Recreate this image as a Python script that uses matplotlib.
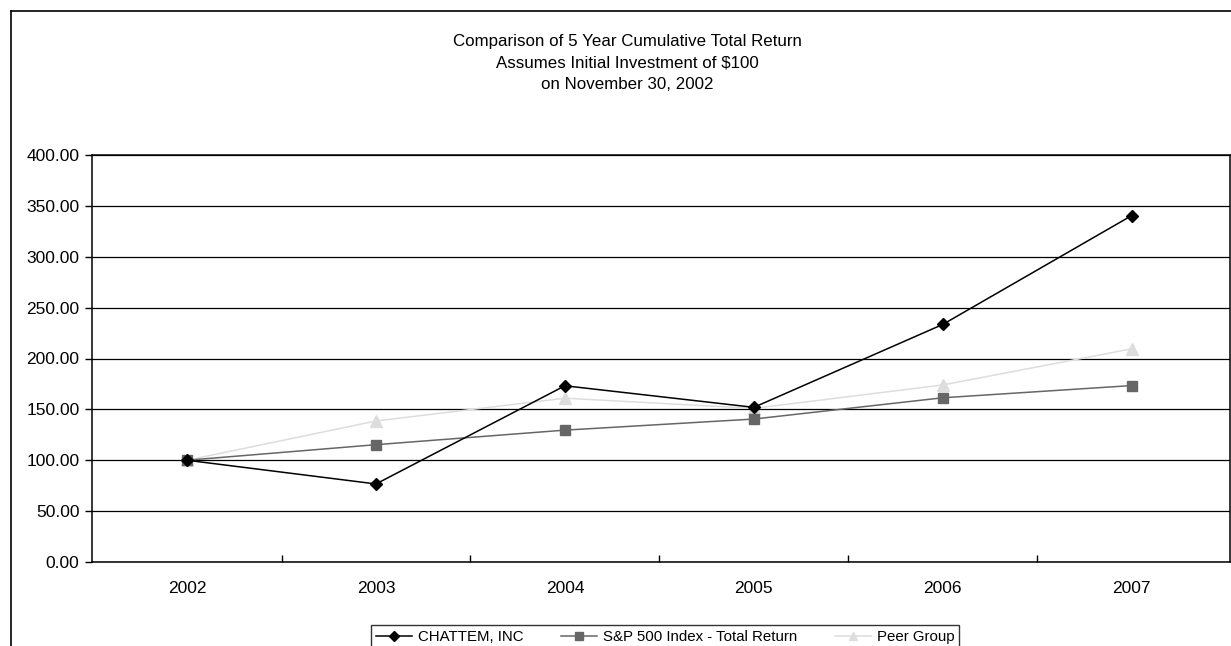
import matplotlib
matplotlib.use('Agg')
import matplotlib.pyplot as plt
from matplotlib.lines import Line2D
import numpy as np

years = ['2002', '2003', '2004', '2005', '2006', '2007']
chattem = [100.00, 76.7, 173.2, 152.0, 233.5, 340.5]
sp500 = [100.00, 115.3, 129.6, 140.5, 161.4, 173.4]
peer = [100.00, 138.6, 161.0, 151.0, 174.0, 209.5]

W, H = 1231, 646
fig = plt.figure(figsize=(W/100, H/100), dpi=100)
plt.rcParams['font.family'] = ['Liberation Sans', 'DejaVu Sans']

# outer chart frame
fig.add_artist(Line2D([11/W, 11/W], [0, 1-11/H], color='black', lw=1.2))
fig.add_artist(Line2D([11/W, 1], [1-11/H, 1-11/H], color='black', lw=1.2))

ax = fig.add_axes([92/W, 1-562/H, (1230-92)/W, (562-155)/H])
x = np.arange(len(years))

ax.plot(x, chattem, color='black', lw=1.1, marker='D', ms=6,
        markerfacecolor='black', markeredgecolor='black', label='CHATTEM, INC', zorder=5)
ax.plot(x, sp500, color='#666666', lw=1.1, marker='s', ms=7,
        markerfacecolor='#666666', markeredgecolor='#666666',
        label='S&P 500 Index - Total Return', zorder=4)
ax.plot(x, peer, color='#dddddd', lw=1.1, marker='^', ms=8,
        markerfacecolor='#dddddd', markeredgecolor='#dddddd', label='Peer Group', zorder=3)

ax.set_xlim(-0.503, 5.52)
ax.set_ylim(0, 400)
ax.set_yticks(np.arange(0, 401, 50))
ax.set_yticklabels(['%.2f' % v for v in np.arange(0, 401, 50)])
ax.yaxis.grid(True, color='black', lw=0.9)
ax.set_axisbelow(True)

ax.set_xticks(x)
ax.set_xticklabels(years)
ax.set_xticks(np.arange(0.5, 5, 1), minor=True)
ax.tick_params(axis='x', which='major', length=0, pad=14, labelsize=12.5)
ax.tick_params(axis='x', which='minor', direction='in', length=5, width=1)
ax.tick_params(axis='y', direction='out', length=5, width=1, labelsize=12.5, pad=4)

for s in ['left', 'top', 'bottom', 'right']:
    ax.spines[s].set_color('black')
    ax.spines[s].set_linewidth(1.1)

fig.text(627/W, 1-63/H, 'Comparison of 5 Year Cumulative Total Return\n'
         'Assumes Initial Investment of $100\non November 30, 2002',
         ha='center', va='center', fontsize=12.2, linespacing=1.55)

leg = fig.legend(loc='upper center', bbox_to_anchor=(665/W, 1-617/H), ncol=3,
                 fontsize=10.8, frameon=True, fancybox=False, edgecolor='black',
                 borderpad=0.35, handlelength=2.4, columnspacing=2.5, handletextpad=0.4,
                 markerscale=0.8)
leg.get_frame().set_linewidth(1)

fig.savefig('out.png', dpi=100)
